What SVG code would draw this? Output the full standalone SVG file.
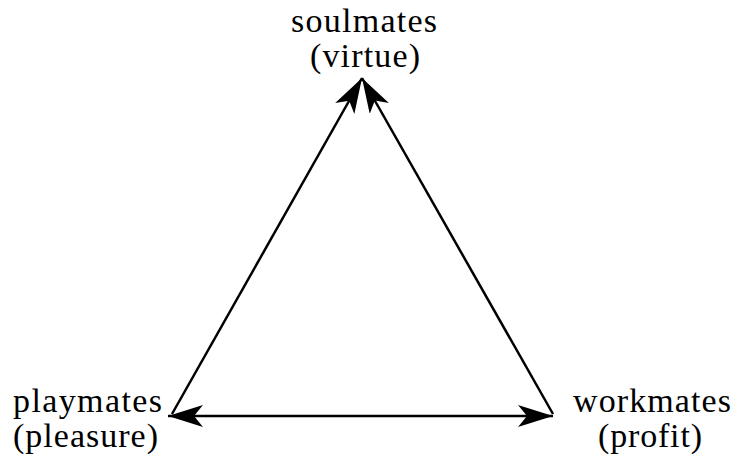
<svg xmlns="http://www.w3.org/2000/svg" width="734" height="461" viewBox="0 0 734 461">
<style>
.t{font-family:'Liberation Serif','Times New Roman',serif;font-size:34px;fill:#000}
.m{text-anchor:middle}
.c{stroke:#000;stroke-width:2.5;fill:none}
</style>
<defs>
<marker id="ah" markerUnits="userSpaceOnUse" viewBox="0 0 35 22" markerWidth="35" markerHeight="22" refX="35" refY="11" orient="auto-start-reverse">
<path d="M35,11 L0,0 L9,11 L0,22 Z" fill="#000"/>
</marker>
</defs>
<rect width="734" height="461" fill="#fff"/>
<g id="soulmates"><text class="t m" x="364" y="32" textLength="146" lengthAdjust="spacing">soulmates</text><text class="t m" x="365" y="67" textLength="110" lengthAdjust="spacing">(virtue)</text></g>
<g id="playmates"><text class="t" x="13" y="412" textLength="149" lengthAdjust="spacing">playmates</text><text class="t" x="13" y="447" textLength="145" lengthAdjust="spacing">(pleasure)</text></g>
<g id="workmates"><text class="t m" x="652" y="412" textLength="158" lengthAdjust="spacing">workmates</text><text class="t m" x="650" y="447" textLength="104" lengthAdjust="spacing">(profit)</text></g>
<g id="connectors">
<line class="c" x1="172" y1="414" x2="362" y2="78" marker-end="url(#ah)"/>
<line class="c" x1="553" y1="414" x2="362" y2="78" marker-end="url(#ah)"/>
<line class="c" x1="168" y1="416" x2="553" y2="416" marker-start="url(#ah)" marker-end="url(#ah)"/>
</g>
</svg>
